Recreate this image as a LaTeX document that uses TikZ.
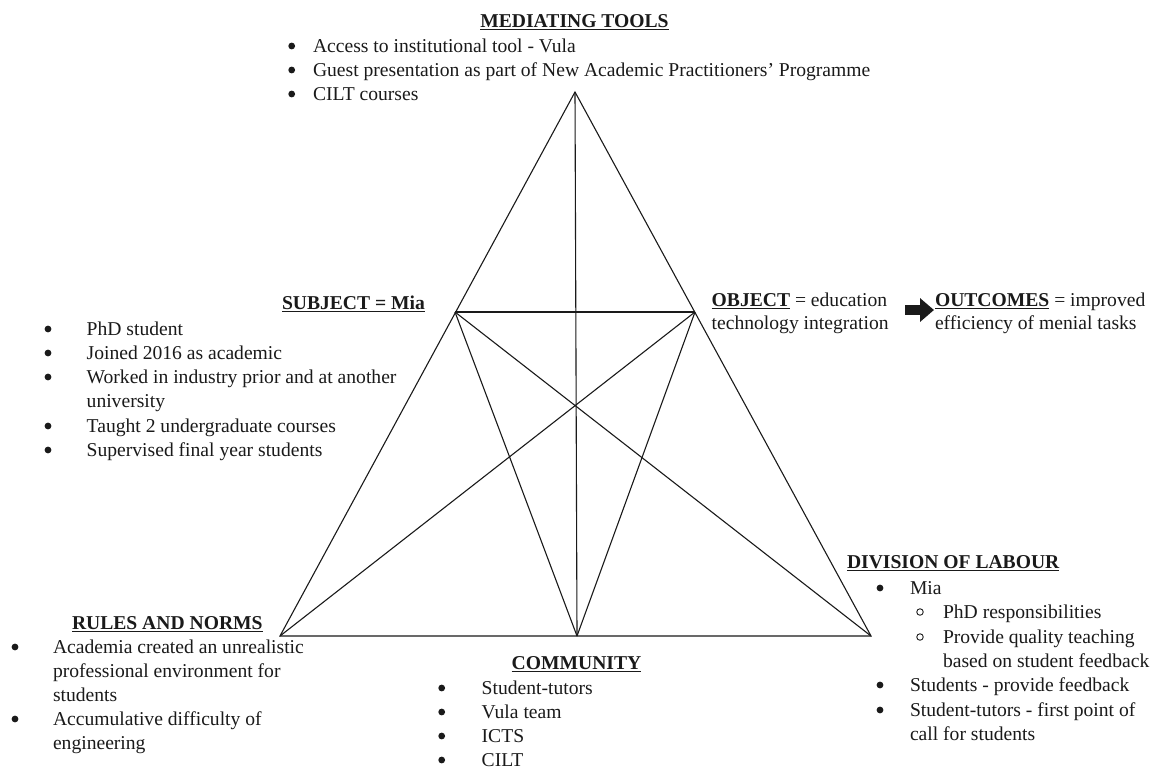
\documentclass[tikz,border=0pt]{standalone}
\usepackage{fontspec}
\setmainfont{Liberation Serif}
\usetikzlibrary{arrows.meta}
\definecolor{ink}{HTML}{1A1A1A}
% underlined text: rule runs the full width of the box
\newcommand\ulx[1]{\setbox0\hbox{#1}\rlap{\color{ink}\rule[-3.2pt]{\wd0}{1.4pt}}\box0\relax}
\begin{document}
\begin{tikzpicture}[x=1pt,y=-1pt]
\tikzset{
  txt/.style={inner sep=0pt, outer sep=0pt, anchor=base west, text=ink,
    font=\fontsize{19.6}{24}\selectfont},
  head/.style={txt, font=\fontsize{19.6}{24}\selectfont\bfseries},
  dot/.style={circle, fill=ink, inner sep=0pt, minimum size=6.8pt},
  ring/.style={circle, draw=ink, line width=0.9pt, inner sep=0pt, minimum size=6.5pt},
  edge/.style={draw=ink, line width=1.1pt},
}
\useasboundingbox (0,0) rectangle (1159,769);
\fill[white] (0,0) rectangle (1159,769);

% corners of the activity triangle
\coordinate (A) at (575,92);
\coordinate (S) at (455,312);
\coordinate (O) at (695,312);
\coordinate (R) at (280,636);
\coordinate (C) at (577,636);
\coordinate (D) at (871,636);

\draw[edge] (A) -- (R) -- (D) -- cycle;
\draw[edge] (A) -- (C);
\draw[edge] (S) -- (O);
\draw[edge] (S) -- (C);
\draw[edge] (S) -- (D);
\draw[edge] (O) -- (R);
\draw[edge] (O) -- (C);

% mediating tools
\node[head, anchor=base] (mt) at (574.5,27) {\ulx{MEDIATING TOOLS}};
\node[dot] (mtb1) at (291.7,46) {};
\node[txt] (mt1) at (313,52) {Access to institutional tool - Vula};
\node[dot] (mtb2) at (291.7,70) {};
\node[txt] (mt2) at (313,76) {Guest presentation as part of New Academic Practitioners’ Programme};
\node[dot] (mtb3) at (291.7,94) {};
\node[txt] (mt3) at (313,100) {CILT courses};

% subject
\node[head] (sub) at (282,309) {\ulx{SUBJECT = Mia}};
\node[dot] (sb1) at (48,329) {};
\node[txt] (s1) at (86.7,335) {PhD student};
\node[dot] (sb2) at (48,353) {};
\node[txt] (s2) at (86.7,359) {Joined 2016 as academic};
\node[dot] (sb3) at (48,377) {};
\node[txt] (s3) at (86.7,383) {Worked in industry prior and at another};
\node[txt] (s3b) at (86.7,407) {university};
\node[dot] (sb4) at (48,426) {};
\node[txt] (s4) at (86.7,432) {Taught 2 undergraduate courses};
\node[dot] (sb5) at (48,450) {};
\node[txt] (s5) at (86.7,456) {Supervised final year students};

% object and outcomes
\node[txt] (obj) at (711.7,306) {\ulx{\bfseries OBJECT} = education};
\node[txt] (obj2) at (711.7,329) {technology integration};
\node[txt] (out) at (935,306) {\ulx{\bfseries OUTCOMES} = improved};
\node[txt] (out2) at (935,329) {efficiency of menial tasks};
\coordinate (arrS) at (905,310);
\coordinate (arrE) at (934,310);
\draw[ink, line width=10pt, -{Triangle[length=14pt,width=23pt]}] (arrS) -- (arrE);

% rules and norms
\node[head] (rn) at (72,629) {\ulx{RULES AND NORMS}};
\node[dot] (rb1) at (15,647) {};
\node[txt] (r1) at (53,653) {Academia created an unrealistic};
\node[txt] (r1b) at (53,677) {professional environment for};
\node[txt] (r1c) at (53,701) {students};
\node[dot] (rb2) at (15,719) {};
\node[txt] (r2) at (53,725) {Accumulative difficulty of};
\node[txt] (r2b) at (53,749) {engineering};

% community
\node[head] (com) at (511.7,669) {\ulx{COMMUNITY}};
\node[dot] (cb1) at (441.7,688) {};
\node[txt] (c1) at (481.7,694) {Student-tutors};
\node[dot] (cb2) at (441.7,712) {};
\node[txt] (c2) at (481.7,718) {Vula team};
\node[dot] (cb3) at (441.7,736) {};
\node[txt] (c3) at (481.7,742) {ICTS};
\node[dot] (cb4) at (441.7,760) {};
\node[txt] (c4) at (481.7,766) {CILT};

% division of labour
\node[head] (dl) at (847,568) {\ulx{DIVISION OF LABOUR}};
\node[dot] (db1) at (880,588) {};
\node[txt] (d1) at (910,594) {Mia};
\node[ring] (dr1) at (920,612) {};
\node[txt] (d1a) at (943,618) {PhD responsibilities};
\node[ring] (dr2) at (920,637) {};
\node[txt] (d1b) at (943,643) {Provide quality teaching};
\node[txt] (d1c) at (943,667) {based on student feedback};
\node[dot] (db2) at (880,685) {};
\node[txt] (d2) at (910,691) {Students - provide feedback};
\node[dot] (db3) at (880,710) {};
\node[txt] (d3) at (910,716) {Student-tutors - first point of};
\node[txt] (d3b) at (910,740) {call for students};
\end{tikzpicture}
\end{document}
